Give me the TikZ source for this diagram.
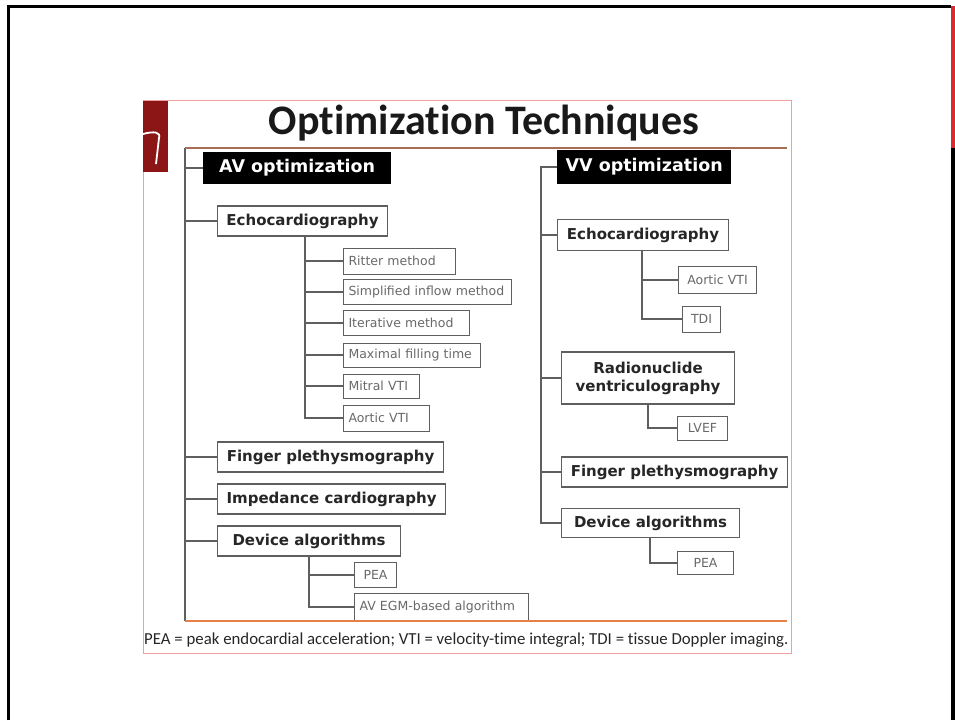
\documentclass[tikz,border=0pt]{standalone}
\usepackage{fontspec}
\setmainfont{DejaVu Sans}
\newfontfamily\calib[Ligatures=NoCommon]{Carlito}
\definecolor{boxgrey}{RGB}{95,95,95}
\definecolor{txtgrey}{RGB}{105,105,105}
\definecolor{logored}{RGB}{140,22,22}
\definecolor{orangeline}{RGB}{228,128,72}
\definecolor{brownline}{RGB}{165,110,85}
\definecolor{pinkborder}{RGB}{238,160,160}
\definecolor{slidered}{RGB}{218,42,50}
\begin{document}
\begin{tikzpicture}[x=1pt,y=-1pt,
  conn/.style={draw=boxgrey,line width=1.3pt},
  hdr/.style={fill=black,text=white,font=\fontsize{17.5}{20}\selectfont\bfseries,inner sep=0pt,anchor=west},
  bigbox/.style={draw=boxgrey,line width=1.1pt,fill=white,font=\fontsize{15}{18}\selectfont\bfseries,text=black!85,inner sep=0pt,anchor=west},
  smallbox/.style={draw=boxgrey,line width=1pt,fill=white,font=\fontsize{12.5}{14}\selectfont,text=txtgrey,inner xsep=5pt,inner ysep=0pt,anchor=west,align=left},
  cbox/.style={smallbox,align=center}
]
\useasboundingbox (0,0) rectangle (955,720);
% slide frame
\draw[black,line width=3pt] (8,720) -- (8,6) -- (951,6);
\draw[black,line width=4pt] (953,148) -- (953,720);
\draw[slidered,line width=4pt] (953,6) -- (953,148);
% inner picture border and logo
\draw[pinkborder,line width=1pt] (143,100) rectangle (791,653);
\fill[logored] (143,101) rectangle (168,172);
\draw[white,line width=1.8pt] (143,134) .. controls (154,131) and (161,132) .. (159,138) -- (156,164);
% title
\node[font=\calib\bfseries\fontsize{42}{45}\selectfont,text=black!90] (title) at (484,123) {Optimization Techniques};
% frame
\coordinate (Ltop) at (185,148);
\coordinate (Lbot) at (185,621);
\draw[boxgrey,line width=1.3pt] (Ltop) -- (Lbot);
\coordinate (Rtop) at (787,148);
\coordinate (Rbot) at (787,621);
% AV side
\node[hdr,minimum width=188pt,minimum height=32pt] (avh) at (203,168) {AV optimization};
\node[bigbox,minimum width=170pt,minimum height=30pt] (echoL) at (217,221) {Echocardiography};
\node[smallbox,text width=102pt,minimum height=26pt] (r1) at (343,261) {Ritter method};
\node[smallbox,text width=158pt,minimum height=25pt] (r2) at (343,292) {Simplified inflow method};
\node[smallbox,text width=116pt,minimum height=25pt] (r3) at (343,323) {Iterative method};
\node[smallbox,text width=127pt,minimum height=24pt] (r4) at (343,355) {Maximal filling time};
\node[smallbox,text width=66pt,minimum height=24pt] (r5) at (343,386) {Mitral VTI};
\node[smallbox,text width=76pt,minimum height=26pt] (r6) at (343,418) {Aortic VTI};
\node[bigbox,minimum width=226pt,minimum height=30pt] (fingL) at (217,457) {Finger plethysmography};
\node[bigbox,minimum width=228pt,minimum height=30pt] (impL) at (217,499) {Impedance cardiography};
\node[bigbox,minimum width=183pt,minimum height=30pt] (devL) at (217,541) {Device algorithms};
\node[cbox,text width=32pt,minimum height=25pt] (peaL) at (354,575) {PEA};
\node[smallbox,text width=164pt,minimum height=28pt] (egm) at (354,607) {AV EGM-based algorithm};
\foreach \n in {avh,echoL,fingL,impL,devL} \draw[conn] (\n.west -| Ltop) -- (\n.west);
\coordinate (eL) at (305,0);
\draw[conn] (echoL.south -| eL) |- (r6.west);
\foreach \n in {r1,r2,r3,r4,r5} \draw[conn] (\n.west -| eL) -- (\n.west);
\coordinate (dL) at (309,0);
\draw[conn] (devL.south -| dL) |- (egm.west);
\draw[conn] (peaL.west -| dL) -- (peaL.west);
% VV side
\node[hdr,minimum width=174pt,minimum height=34pt] (vvh) at (557,167) {VV optimization};
\node[bigbox,minimum width=171pt,minimum height=31pt] (echoR) at (557,235) {Echocardiography};
\node[cbox,text width=68pt,minimum height=27pt] (aorR) at (678,280) {Aortic VTI};
\node[cbox,text width=28pt,minimum height=26pt] (tdi) at (682,319) {TDI};
\node[bigbox,minimum width=173pt,minimum height=52pt,align=center] (radio) at (561,378) {Radionuclide\\ventriculography};
\node[cbox,text width=40pt,minimum height=24pt] (lvef) at (677,428) {LVEF};
\node[bigbox,minimum width=226pt,minimum height=30pt] (fingR) at (561,472) {Finger plethysmography};
\node[bigbox,minimum width=178pt,minimum height=29pt] (devR) at (561,523) {Device algorithms};
\node[cbox,text width=46pt,minimum height=23pt] (peaR) at (677,563) {PEA};
\coordinate (Rtr) at (541,0);
\draw[conn] (vvh.west) -- (vvh.west -| Rtr) |- (devR.west);
\foreach \n in {echoR,radio,fingR} \draw[conn] (\n.west -| Rtr) -- (\n.west);
\coordinate (eR) at (642,0);
\draw[conn] (echoR.south -| eR) |- (tdi.west);
\draw[conn] (aorR.west -| eR) -- (aorR.west);
\coordinate (rR) at (648,0);
\draw[conn] (radio.south -| rR) |- (lvef.west);
\coordinate (dR) at (650,0);
\draw[conn] (devR.south -| dR) |- (peaR.west);
% top and bottom rules
\draw[brownline,line width=1.6pt] (Ltop) -- (Rtop);
\draw[orangeline,line width=2.2pt] (Lbot) -- (Rbot);
% caption
\node[font=\calib\fontsize{16.8}{19}\selectfont,text=black!85,anchor=west,inner sep=0pt] (cap) at (144,640) {PEA = peak endocardial acceleration; VTI = velocity-time integral; TDI = tissue Doppler imaging.};
\end{tikzpicture}
\end{document}
